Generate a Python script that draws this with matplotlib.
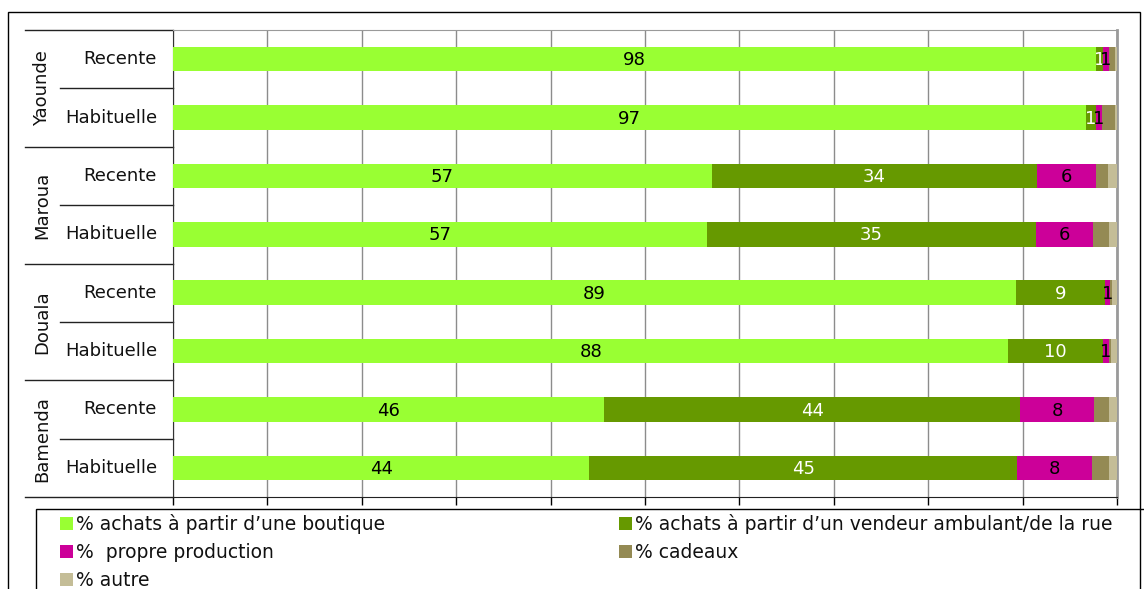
import matplotlib
matplotlib.use("Agg")
import matplotlib.pyplot as plt
from matplotlib.patches import Rectangle
from matplotlib.lines import Line2D
import numpy as np

plt.rcParams['font.family'] = ['DejaVu Sans']

cities = ["Yaounde", "Maroua", "Douala", "Bamenda"]
periods = ["Recente", "Habituelle"]
row_labels = ["Recente", "Habituelle"] * 4

series_names = ["% achats à partir d\u2019une boutique",
                "% achats à partir d\u2019un vendeur ambulant/de la rue",
                "%  propre production",
                "% cadeaux",
                "% autre"]
colors = ["#99FF33", "#669900", "#CC0099", "#948A54", "#C4BD97"]

boutique = [97.8, 96.7, 57.1, 56.6, 89.3, 88.5, 45.7, 44.1]
ambulant = [0.7, 1.1, 34.4, 34.8, 9.4, 10.0, 44.0, 45.3]
propre = [0.6, 0.6, 6.3, 6.1, 0.6, 0.6, 7.9, 7.9]
cadeaux = [0.7, 1.4, 1.2, 1.6, 0.2, 0.3, 1.5, 1.8]
autre = [0.2, 0.2, 1.0, 0.9, 0.5, 0.6, 0.9, 0.9]

label_vals_boutique = [98, 97, 57, 57, 89, 88, 46, 44]
label_vals_ambulant = [1, 1, 34, 35, 9, 10, 44, 45]
label_vals_propre = [1, 1, 6, 6, 1, 1, 8, 8]

W, H = 1144, 589
fig = plt.figure(figsize=(W / 100, H / 100), dpi=100)

def fx(px):
    return px / W

def fy(py):
    return 1 - py / H

L, R, T, B = 173, 1117, 30, 497
ax = fig.add_axes([fx(L), fy(B), fx(R - L), (B - T) / H])

series = [boutique, ambulant, propre, cadeaux, autre]
label_sets = [(label_vals_boutique, "black"), (label_vals_ambulant, "white"),
              (label_vals_propre, "black")]
y = np.arange(len(row_labels))
left = np.zeros(len(row_labels))
FS = 13
TXT = "#111111"
for i, (vals, col) in enumerate(zip(series, colors)):
    vals = np.array(vals)
    ax.barh(y, vals, left=left, height=0.42, color=col, zorder=3)
    if i < 3:
        labs, tc = label_sets[i]
        for yy, l0, v, lab in zip(y, left, vals, labs):
            ax.text(l0 + v / 2, yy + 0.02, str(lab), ha="center", va="center",
                    color=tc, fontsize=FS, zorder=4)
    left += vals

ax.set_xlim(0, 100)
ax.set_ylim(len(row_labels) - 0.5, -0.5)
ax.set_xticks(np.arange(0, 101, 10))
ax.set_xticklabels([])
ax.set_yticks([])
ax.tick_params(axis="x", direction="out", length=6, width=1, color="black")
ax.grid(axis="x", color="#8c8c8c", linewidth=1, zorder=0)
ax.spines["top"].set_color("#9a9a9a")
ax.spines["right"].set_color("#9a9a9a")
ax.spines["right"].set_linewidth(2)
ax.spines["left"].set_color("#333333")
ax.spines["bottom"].set_color("#222222")

# category labels on the left
ytr = ax.get_yaxis_transform()
x_outer = (25 - L) / (R - L)
x_inner = (60 - L) / (R - L)
for k, lab in enumerate(row_labels):
    ax.text((157 - L) / (R - L), k, lab, transform=ytr, ha="right", va="center",
            fontsize=FS, color=TXT)
for g, city in enumerate(cities):
    ax.text((42 - L) / (R - L), 2 * g + 0.5, city, transform=ytr, ha="center",
            va="center", rotation=90, fontsize=FS, color=TXT)
for g in range(5):
    yy = 2 * g - 0.5
    ax.add_line(Line2D([x_outer, 0], [yy, yy], transform=ytr, color="#222222",
                       linewidth=1, clip_on=False))
for g in range(4):
    yy = 2 * g + 0.5
    ax.add_line(Line2D([x_inner, 0], [yy, yy], transform=ytr, color="#222222",
                       linewidth=1, clip_on=False))

# outer figure border
fig.add_artist(Rectangle((fx(8), fy(600)), fx(1140 - 8), (600 - 12) / H,
                         transform=fig.transFigure, fill=False,
                         edgecolor="black", linewidth=1))

# legend box
fig.add_artist(Rectangle((fx(36), fy(620)), fx(1160 - 36), (620 - 509) / H,
                         transform=fig.transFigure, fill=False,
                         edgecolor="black", linewidth=1))

legend_pos = [(60, 524), (619, 524), (60, 552), (619, 552), (60, 580)]
for (px, py), name, col in zip(legend_pos, series_names, colors):
    fig.add_artist(Rectangle((fx(px), fy(py + 6)), fx(13), 13 / H,
                             transform=fig.transFigure, facecolor=col,
                             edgecolor="none"))
    fig.text(fx(px + 16), fy(py), name, ha="left", va="center",
             fontsize=13.5, color=TXT)

fig.savefig("out.png", dpi=100)
